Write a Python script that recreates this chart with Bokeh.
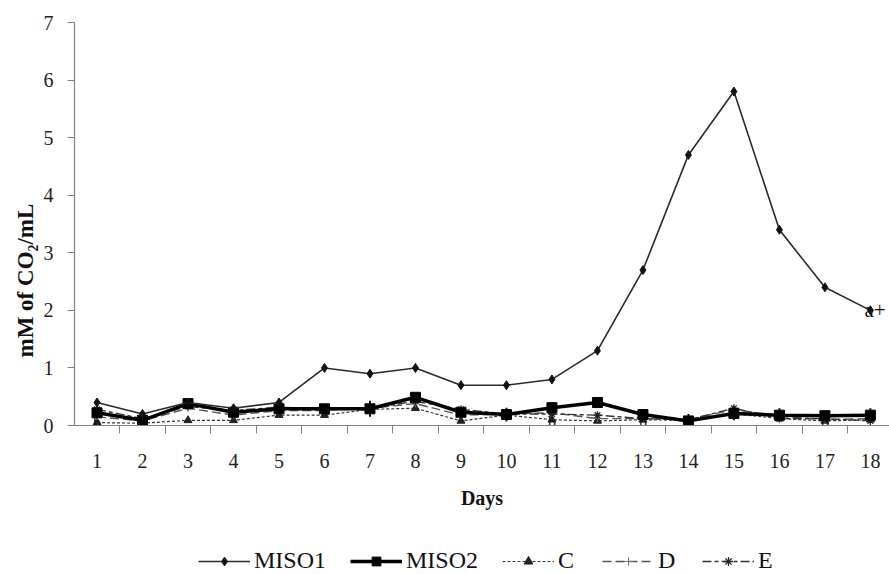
from bokeh.plotting import figure
from bokeh.layouts import column
from bokeh.models import FixedTicker, Legend, LegendItem, Range1d, ColumnDataSource, Title
from bokeh.core.properties import value
from bokeh.embed import file_html
from bokeh.resources import INLINE

days = list(range(1, 19))
miso1 = [0.4, 0.2, 0.4, 0.3, 0.4, 1.0, 0.9, 1.0, 0.7, 0.7, 0.8, 1.3, 2.7, 4.7, 5.8, 3.4, 2.4, 2.0]
miso2 = [0.22, 0.09, 0.38, 0.23, 0.29, 0.29, 0.29, 0.49, 0.23, 0.19, 0.31, 0.40, 0.19, 0.08, 0.21, 0.18, 0.17, 0.18]
miso2_err = [0.08, 0.04, 0.05, 0.06, 0.05, 0.04, 0.14, 0.06, 0.08, 0.12, 0.05, 0.05, 0.06, 0.12, 0.12, 0.12, 0.05, 0.12]
c_vals = [0.05, 0.04, 0.09, 0.09, 0.18, 0.18, 0.28, 0.30, 0.08, 0.18, 0.10, 0.08, 0.10, 0.09, 0.20, 0.12, 0.08, 0.10]
d_vals = [0.15, 0.08, 0.30, 0.18, 0.26, 0.26, 0.30, 0.38, 0.18, 0.20, 0.22, 0.12, 0.12, 0.10, 0.28, 0.16, 0.10, 0.12]
e_vals = [0.28, 0.12, 0.33, 0.26, 0.32, 0.28, 0.30, 0.42, 0.28, 0.20, 0.20, 0.18, 0.12, 0.10, 0.30, 0.12, 0.12, 0.08]
ann_days = [1, 11, 13, 17]
ann_vals = [0.06, 0.06, 0.06, 0.06]
ann_text = ["b", "b", "b", "b"]
top_day = [18]
top_val = [2.0]
top_text = ["a+"]
y_ticks = [0, 1, 2, 3, 4, 5, 6, 7]
series_names = ["MISO1", "MISO2", "C", "D", "E"]

SERIF = "Liberation Serif"

p = figure(width=889, height=528, output_backend="svg", toolbar_location=None,
           x_range=Range1d(0.505, 18.42), y_range=Range1d(0, 7),
           min_border_left=74, min_border_right=0, min_border_top=22, min_border_bottom=103)
p.outline_line_color = None
p.grid.grid_line_color = None
p.background_fill_color = "white"

# x axis
p.xaxis.ticker = FixedTicker(ticks=days, minor_ticks=[d + 0.5 for d in range(0, 19)])
p.xaxis.major_tick_out = 0
p.xaxis.major_tick_in = 0
p.xaxis.minor_tick_out = 8
p.xaxis.minor_tick_in = 0
p.xaxis.minor_tick_line_color = "#808080"
p.xaxis.axis_line_color = "#808080"
p.xaxis.axis_line_width = 1.2
p.xaxis.major_label_standoff = 20
p.xaxis.major_label_text_font = SERIF
p.xaxis.major_label_text_font_size = "20px"
p.xaxis.major_label_text_color = "#222222"
p.xaxis.axis_label = "Days"
p.xaxis.axis_label_text_font = SERIF
p.xaxis.axis_label_text_font_size = "20px"
p.xaxis.axis_label_text_font_style = "bold"
p.xaxis.axis_label_text_color = "#111111"
p.xaxis.axis_label_standoff = 16

# y axis
p.yaxis.ticker = FixedTicker(ticks=y_ticks)
p.yaxis.major_tick_out = 7
p.yaxis.major_tick_in = 0
p.yaxis.minor_tick_out = 0
p.yaxis.minor_tick_in = 0
p.yaxis.major_tick_line_color = "#808080"
p.yaxis.axis_line_color = "#808080"
p.yaxis.axis_line_width = 1.2
p.yaxis.major_label_standoff = 14
p.yaxis.major_label_text_font = SERIF
p.yaxis.major_label_text_font_size = "20px"
p.yaxis.major_label_text_color = "#222222"

ytitle = Title(text="mM of CO\u2082/mL", align="left", offset=68, standoff=6,
               text_font=SERIF, text_font_size="23px", text_font_style="bold", text_color="#111111")
p.add_layout(ytitle, "left")

src = ColumnDataSource(dict(day=days, miso1=miso1, miso2=miso2, c=c_vals, d=d_vals, e=e_vals,
                            lo=[v - e for v, e in zip(miso2, miso2_err)],
                            hi=[v + e for v, e in zip(miso2, miso2_err)]))

STY = {
    "C": dict(line=dict(line_color="#333333", line_width=1.2, line_dash="3 2"),
              mark=dict(marker="triangle", size=8, fill_color="#222222", line_color="#222222")),
    "D": dict(line=dict(line_color="#555555", line_width=1.4, line_dash="9 4"),
              mark=dict(marker="cross", size=7, line_color="#777777", line_width=1)),
    "E": dict(line=dict(line_color="#333333", line_width=1.4, line_dash="9 3 4 3"),
              mark=dict(marker="asterisk", size=8, line_color="#222222", line_width=1.3)),
    "MISO2": dict(line=dict(line_color="#000000", line_width=3.5),
                  mark=dict(marker="square", size=10, fill_color="#000000", line_color="#000000")),
    "MISO1": dict(line=dict(line_color="#2a2a2a", line_width=1.6),
                  mark=dict(marker="diamond", size=9, fill_color="#111111", line_color="#111111")),
}
cols = {"MISO1": "miso1", "MISO2": "miso2", "C": "c", "D": "d", "E": "e"}

for name in ["C", "D", "E", "MISO2", "MISO1"]:
    if name == "MISO2":
        p.segment("day", "lo", "day", "hi", source=src, line_color="#111111", line_width=2)
    p.line("day", cols[name], source=src, **STY[name]["line"])
    p.scatter("day", cols[name], source=src, **STY[name]["mark"])

# annotations
p.text(x=ann_days, y=ann_vals, text=ann_text, text_font=value(SERIF), text_font_size="16px",
       text_align="center", text_baseline="middle", text_color="#111111")
p.text(x=[d - 0.13 for d in top_day], y=top_val, text=top_text, text_font=value(SERIF), text_font_size="21px",
       text_align="left", text_baseline="middle", text_color="#111111")

# legend strip (frame is aligned with the main plot's frame, which starts at x=74)
lf = figure(width=889, height=46, output_backend="svg", toolbar_location=None,
            x_range=Range1d(0, 1), y_range=Range1d(0, 1),
            x_axis_location=None, y_axis_location=None,
            min_border_left=0, min_border_right=0, min_border_top=0, min_border_bottom=0)
lf.outline_line_color = None
lf.grid.grid_line_color = None
nan = float("nan")
items = []
for name in series_names:
    lsrc = ColumnDataSource(dict(x=[nan], y=[nan]))
    lr = lf.line("x", "y", source=lsrc, **STY[name]["line"])
    mr = lf.scatter("x", "y", source=lsrc, **STY[name]["mark"])
    items.append(LegendItem(label=name, renderers=[lr, mr]))
legend = Legend(items=items, orientation="horizontal", location=(124, 0))
legend.label_text_font = "'Liberation Serif', serif"
legend.label_text_font_size = "24px"
legend.label_text_color = "#111111"
legend.glyph_width = 52
legend.glyph_height = 22
legend.label_standoff = 4
legend.spacing = 24
legend.padding = 0
legend.margin = 0
legend.border_line_color = None
legend.background_fill_alpha = 0
lf.add_layout(legend, "center")

layout = column(p, lf, spacing=0)
open("out.html", "w").write(file_html(layout, INLINE))
